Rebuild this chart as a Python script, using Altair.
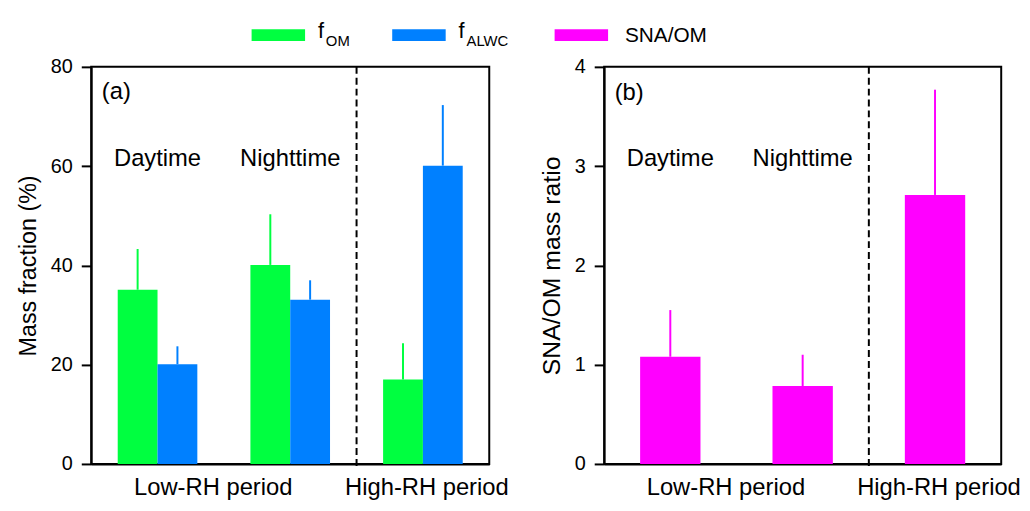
import altair as alt
import pandas as pd

FONT = "Liberation Sans"

# ---- data ----
groups = ["Daytime", "Nighttime", "High-RH"]
f_om = [35.1, 40.1, 17.0]
f_om_top = [43.3, 50.3, 24.3]
f_alwc = [20.1, 33.1, 60.1]
f_alwc_top = [23.7, 37.0, 72.3]
sna_om = [1.08, 0.785, 2.71]
sna_om_top = [1.55, 1.10, 3.77]

time_labels = ["Daytime", "Nighttime"]
period_labels = ["Low-RH period", "High-RH period"]
period_center = [0.92, 2.53]
a_ticks = [0, 20, 40, 60, 80]
b_ticks = [0, 1, 2, 3, 4]

GREEN = "#00FF40"
BLUE = "#0080FF"
MAGENTA = "#FF00FF"

WA, WB, H = 402, 401, 401

centers = [i + 0.5 for i in range(len(groups))]


def bars_df(vals, tops, lo, hi):
    return pd.DataFrame({
        "group": groups,
        "c": centers,
        "x0": [c + lo for c in centers],
        "x1": [c + hi for c in centers],
        "val": vals,
        "top": tops,
    })


df_om = bars_df(f_om, f_om_top, -0.3, 0.0)
df_om["ec"] = df_om["c"] - 0.15
df_alwc = bars_df(f_alwc, f_alwc_top, 0.0, 0.3)
df_alwc["ec"] = df_alwc["c"] + 0.15
df_sna = bars_df(sna_om, sna_om_top, -0.228, 0.228)
df_sna["ec"] = df_sna["c"]

xscale = alt.Scale(domain=[0, 3], nice=False, zero=False)
xaxis = alt.Axis(labels=False, ticks=False, title=None, grid=False, domainWidth=2, domainColor="black")


def yaxis(title, vals, tsize):
    return alt.Axis(values=vals, title=title, grid=False, tickSize=10, tickWidth=2,
                    tickColor="black", labelPadding=9, titlePadding=10,
                    labelFontSize=20, titleFontSize=tsize, labelFont=FONT, titleFont=FONT,
                    titleFontWeight="normal", labelColor="black", titleColor="black",
                    domainWidth=2, domainColor="black", format="d")


def bar_layers(df, color, ydom, ytitle, yvals, tsize):
    ysc = alt.Scale(domain=ydom, nice=False)
    bars = alt.Chart(df).mark_rect(color=color).encode(
        x=alt.X("x0:Q", scale=xscale, axis=xaxis),
        x2="x1:Q",
        y=alt.Y("val:Q", scale=ysc, axis=yaxis(ytitle, yvals, tsize)),
        y2=alt.datum(0),
    )
    err = alt.Chart(df).mark_rule(color=color, strokeWidth=2).encode(
        x=alt.X("ec:Q", scale=xscale),
        y=alt.Y("val:Q", scale=ysc),
        y2="top:Q",
    )
    return [bars, err]


def common_layers(ydom, time_y, panel_label, label_y):
    ysc = alt.Scale(domain=ydom, nice=False)
    sep = alt.Chart(pd.DataFrame({"xb": [2.0]})).mark_rule(
        color="black", strokeWidth=2, strokeDash=[7, 4]).encode(
        x=alt.X("xb:Q", scale=xscale),
        y=alt.value(0),
        y2=alt.value(H + 5),
    )
    tdf = pd.DataFrame({"t": time_labels, "c": centers[:2], "y": [time_y] * 2})
    times = alt.Chart(tdf).mark_text(fontSize=24, font=FONT, color="black",
                                     baseline="alphabetic", align="center").encode(
        x=alt.X("c:Q", scale=xscale), y=alt.Y("y:Q", scale=ysc), text="t:N")
    pdf = pd.DataFrame({"t": period_labels, "c": period_center})
    periods = alt.Chart(pdf).mark_text(fontSize=24, font=FONT, color="black",
                                       baseline="alphabetic", align="center").encode(
        x=alt.X("c:Q", scale=xscale), y=alt.value(H + 31), text="t:N")
    ldf = pd.DataFrame({"t": [panel_label], "c": [0.08], "y": [label_y]})
    plabel = alt.Chart(ldf).mark_text(fontSize=24, font=FONT, color="black",
                                      baseline="alphabetic", align="left").encode(
        x=alt.X("c:Q", scale=xscale), y=alt.Y("y:Q", scale=ysc), text="t:N")
    return [sep, times, periods, plabel]


panel_a = alt.layer(
    *bar_layers(df_om, GREEN, [0, 80], "Mass fraction (%)", a_ticks, 23.5),
    *bar_layers(df_alwc, BLUE, [0, 80], "Mass fraction (%)", a_ticks, 23.5),
    *common_layers([0, 80], 60.1, "(a)", 73.6),
).properties(width=WA, height=H, view=alt.ViewBackground(stroke="black", strokeWidth=2))

panel_b = alt.layer(
    *bar_layers(df_sna, MAGENTA, [0, 4], "SNA/OM mass ratio", b_ticks, 25),
    *common_layers([0, 4], 3.0, "(b)", 3.67),
).properties(width=WB, height=H, view=alt.ViewBackground(stroke="black", strokeWidth=2))

# ---- legend (custom, with subscripts) ----
legend_items = [
    {"color": GREEN, "x": 162, "main": "f", "sub": "OM"},
    {"color": BLUE, "x": 304, "main": "f", "sub": "ALWC"},
    {"color": MAGENTA, "x": 468, "main": "SNA/OM", "sub": ""},
]
dummy = pd.DataFrame({"d": [0]})
leg_layers = []
for it in legend_items:
    leg_layers.append(alt.Chart(dummy).mark_rect(color=it["color"]).encode(
        x=alt.value(it["x"]), x2=alt.value(it["x"] + 54), y=alt.value(18), y2=alt.value(30)))
    if it["sub"]:
        leg_layers.append(alt.Chart(dummy).mark_text(fontSize=22, font=FONT, color="black",
                                                     align="left", baseline="alphabetic").encode(
            x=alt.value(it["x"] + 67), y=alt.value(27), text=alt.value(it["main"])))
        leg_layers.append(alt.Chart(dummy).mark_text(fontSize=15, font=FONT, color="black",
                                                     align="left", baseline="alphabetic").encode(
            x=alt.value(it["x"] + 75), y=alt.value(35), text=alt.value(it["sub"])))
    else:
        leg_layers.append(alt.Chart(dummy).mark_text(fontSize=21, font=FONT, color="black",
                                                     align="left", baseline="alphabetic").encode(
            x=alt.value(it["x"] + 71), y=alt.value(31), text=alt.value(it["main"])))

legend = alt.layer(*leg_layers).properties(width=640, height=44)

chart = alt.vconcat(
    legend,
    alt.hconcat(panel_a, panel_b, spacing=28),
    spacing=0,
).properties(padding={"left": 7, "top": 0, "right": 0, "bottom": 0}).configure_view(stroke="transparent")

chart.save("out.html", embed_options={"renderer": "svg", "actions": False})
